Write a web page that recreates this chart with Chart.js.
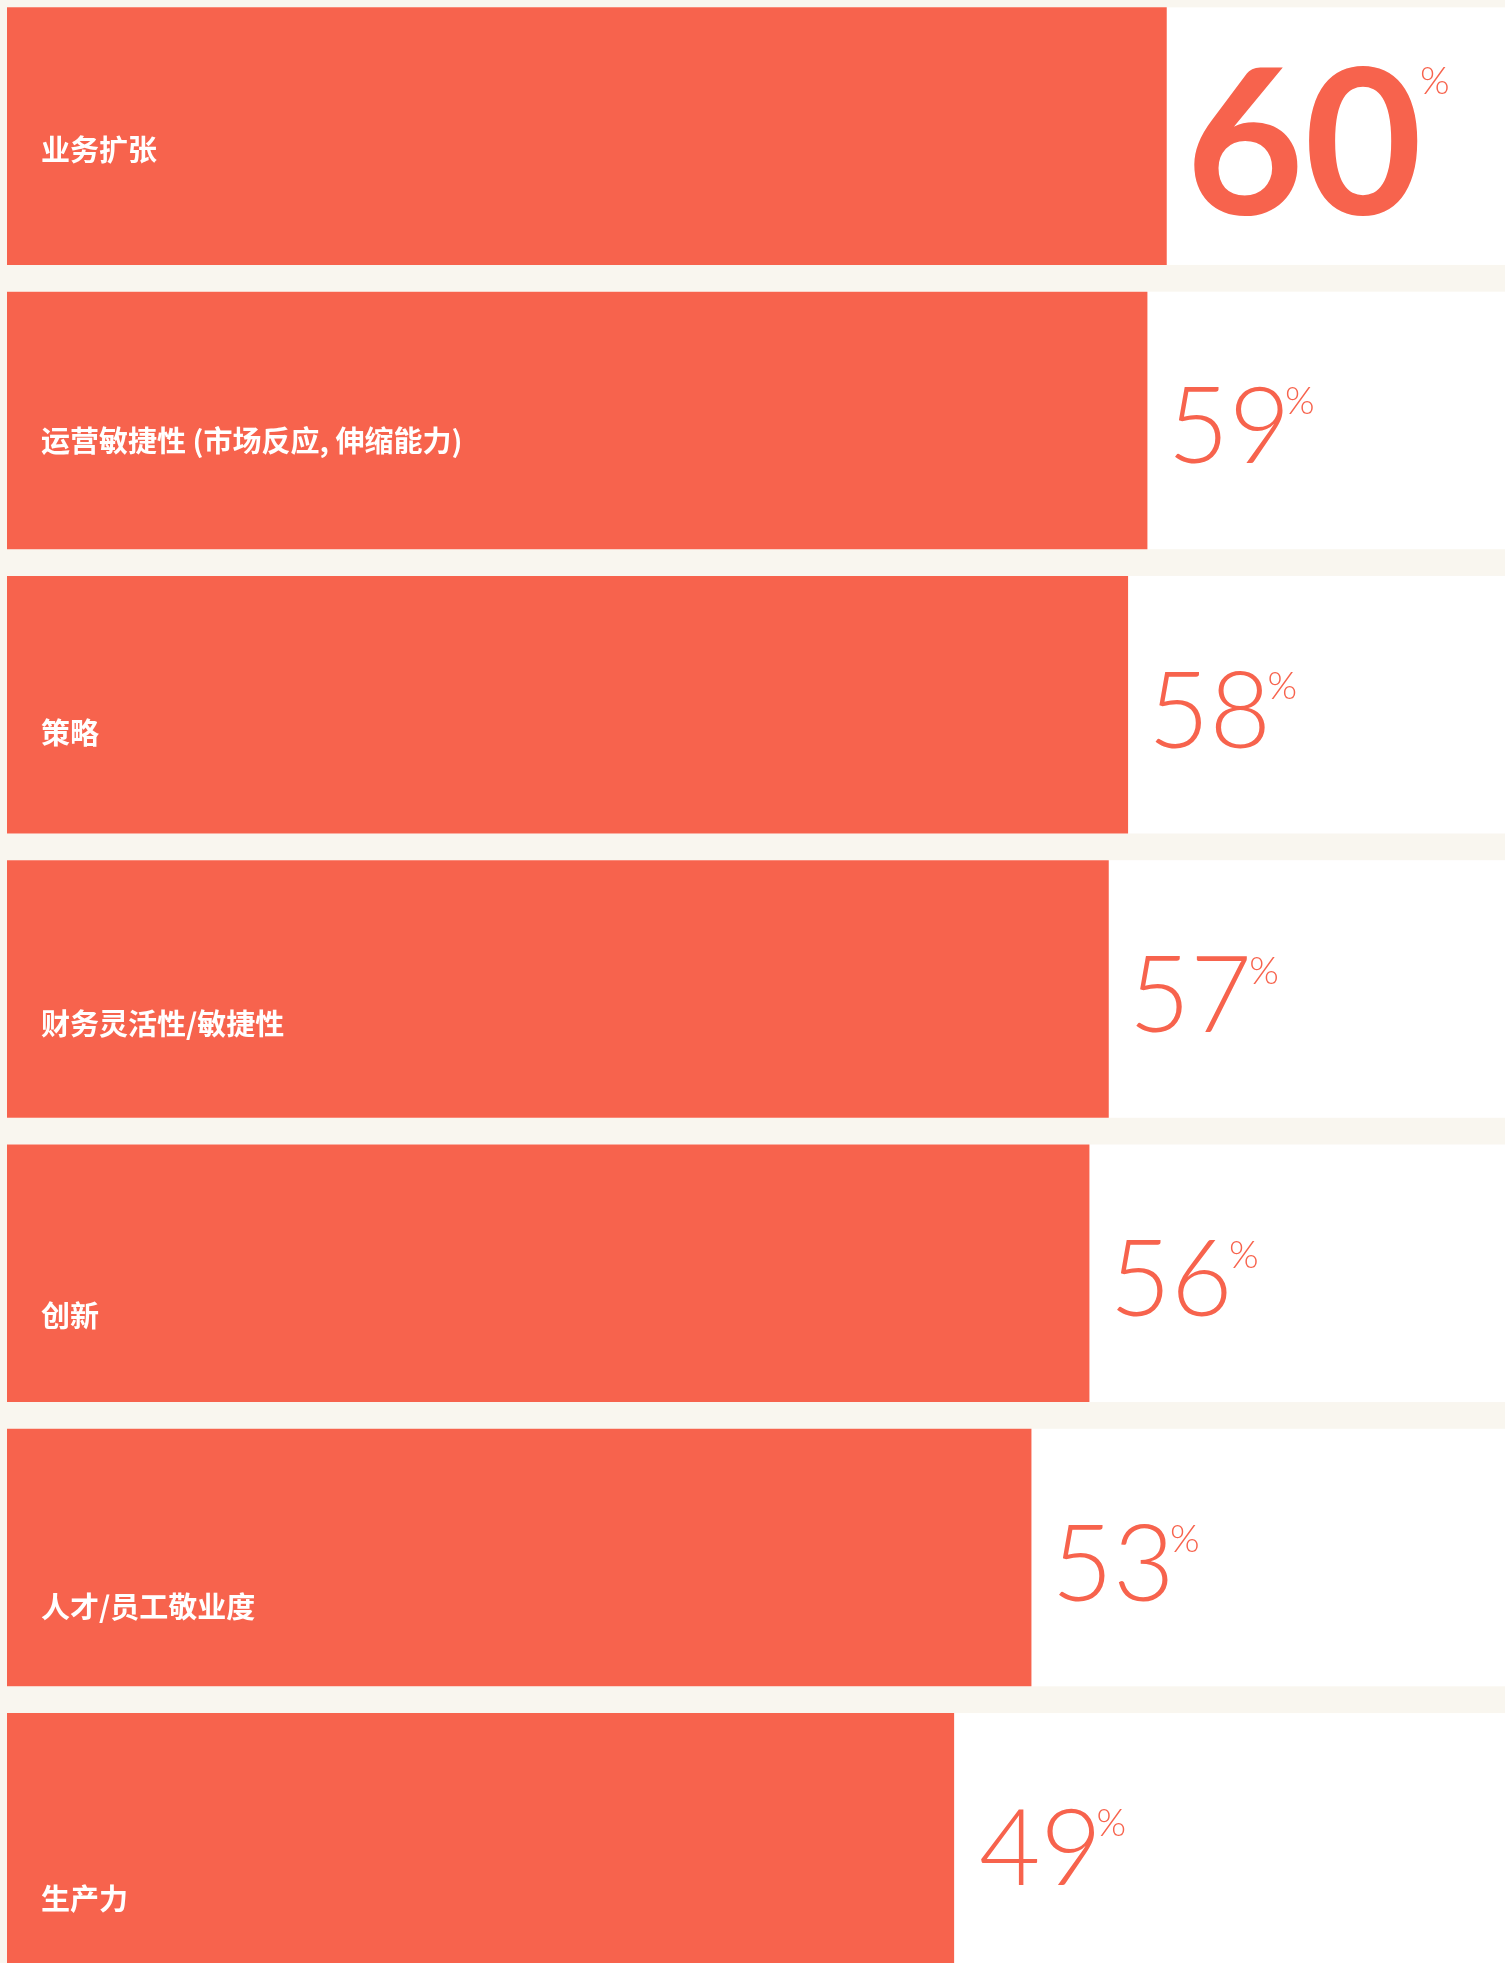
<!DOCTYPE html>
<html>
<head>
<meta charset="utf-8">
<script src="https://cdn.jsdelivr.net/npm/chart.js@4"></script>
<style>
  html, body { margin: 0; padding: 0; background: #f9f6ef; overflow: hidden; }
  #wrap { position: absolute; left: 7px; top: -6px; width: 1498px; height: 1990px; }
</style>
</head>
<body>
<div id="wrap"><canvas id="chart"></canvas></div>
<script>
const categories = [
  "业务扩张",
  "运营敏捷性 (市场反应, 伸缩能力)",
  "策略",
  "财务灵活性/敏捷性",
  "创新",
  "人才/员工敬业度",
  "生产力"
];
const values = [60, 59, 58, 57, 56, 53, 49];
const axisMax = 77.5;

const coral = "#f7634d";

// white track behind each bar, across the full row
const rowBackground = {
  id: "rowBackground",
  beforeDatasetsDraw(chart) {
    const ctx = chart.ctx;
    const area = chart.chartArea;
    ctx.save();
    ctx.fillStyle = "#ffffff";
    chart.getDatasetMeta(0).data.forEach((bar) => {
      ctx.fillRect(area.left, bar.y - bar.height / 2, area.right - area.left, bar.height);
    });
    ctx.restore();
  }
};

// category names inside the bars, values to the right
const barText = {
  id: "barText",
  afterDatasetsDraw(chart) {
    const ctx = chart.ctx;
    const area = chart.chartArea;
    ctx.save();
    chart.getDatasetMeta(0).data.forEach((bar, i) => {
      // name
      ctx.font = 'bold 29px "Noto Sans CJK SC"';
      ctx.fillStyle = "#ffffff";
      ctx.textBaseline = "middle";
      ctx.textAlign = "left";
      ctx.fillText(categories[i], area.left + 34, bar.y + 13.5 + i * 7.2);

      // value, the top one set larger and heavier
      const txt = String(values[i]);
      ctx.fillStyle = coral;
      ctx.textBaseline = "alphabetic";
      ctx.font = i === 0 ? '700 204px Lato' : '300 106px Lato';
      const m = ctx.measureText(txt);
      const midY = bar.y + 5;
      const base = midY + (m.actualBoundingBoxAscent - m.actualBoundingBoxDescent) / 2;
      const x = bar.x + 27 + m.actualBoundingBoxLeft;
      ctx.fillText(txt, x, base);
      const top = base - m.actualBoundingBoxAscent;
      const right = x + m.actualBoundingBoxRight;

      ctx.font = '300 38px Lato';
      const pm = ctx.measureText("%");
      ctx.fillText("%", right + 3 + pm.actualBoundingBoxLeft, top + 1 + pm.actualBoundingBoxAscent);
    });
    ctx.restore();
  }
};

new Chart(document.getElementById("chart"), {
  type: "bar",
  data: {
    labels: categories,
    datasets: [{
      data: values,
      backgroundColor: coral,
      borderWidth: 0,
      categoryPercentage: 1,
      barPercentage: 0.906
    }]
  },
  options: {
    indexAxis: "y",
    responsive: true,
    maintainAspectRatio: false,
    animation: false,
    layout: { padding: 0 },
    plugins: { legend: { display: false }, tooltip: { enabled: false } },
    scales: {
      x: { display: false, min: 0, max: axisMax },
      y: { display: false }
    }
  },
  plugins: [rowBackground, barText]
});
</script>
</body>
</html>
